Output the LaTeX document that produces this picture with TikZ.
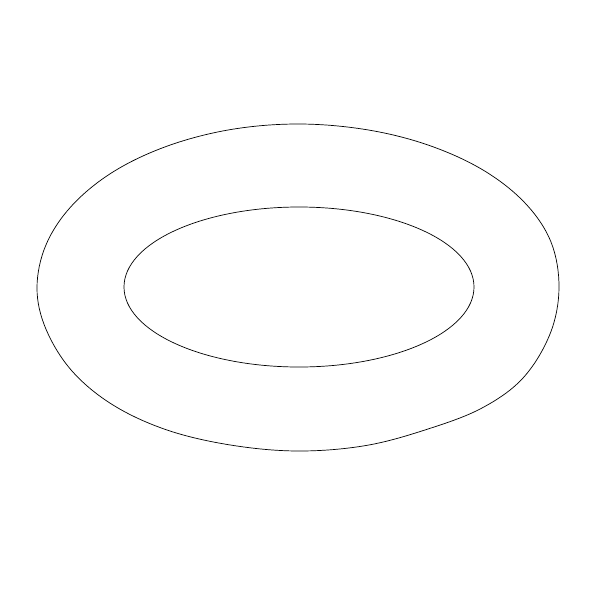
\documentclass[tikz,border=0pt]{standalone}
\begin{document}
\begin{tikzpicture}[x=1pt,y=-1pt,
  ringline/.style={draw=black,line width=0.7pt,line join=round}]
\useasboundingbox (0,0) rectangle (600,600);
% outer contour
\draw[ringline] plot[smooth cycle,tension=0.6] coordinates {
 (559,288) (551,242) (525,203) (483,170) (428,145) (366,129.6)
 (298,124) (230.4,129.6) (167.5,146) (113.4,171.7) (72,205.5) (46,244.8)
 (37,288) (46,329.2) (72,371) (113,405) (167,430) (230.4,445)
 (298,451) (366,445.5) (428,429) (482,408) (523,378) (550,334)};
% inner contour
\draw[ringline] (299,287) ellipse [x radius=175, y radius=80];
\end{tikzpicture}
\end{document}
